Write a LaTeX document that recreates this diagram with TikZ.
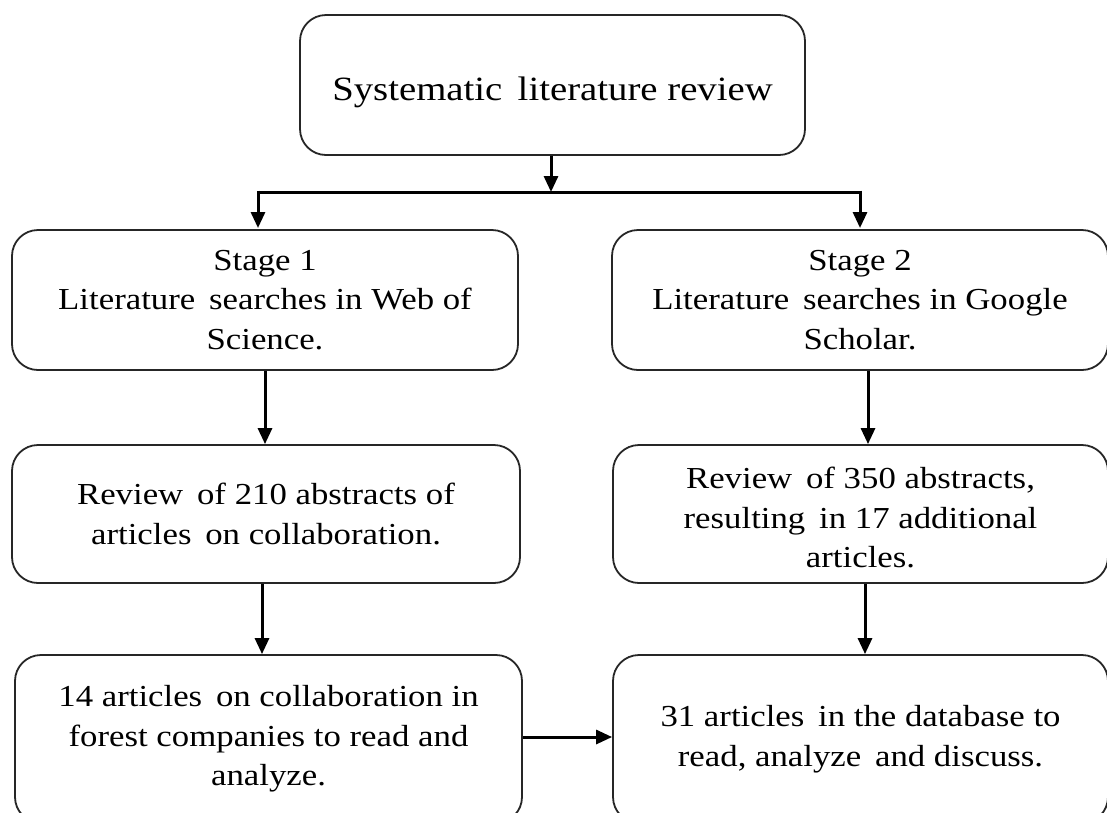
\documentclass[tikz,border=0pt]{standalone}
\usepackage{fontspec}
\setmainfont[FakeStretch=1.14]{Liberation Serif}
\usetikzlibrary{arrows.meta}
\begin{document}
\begin{tikzpicture}[x=1pt,y=-1pt,
  box/.style={draw=black!85,line width=1.8pt,rounded corners=26pt,align=center,
    inner sep=0pt,font=\fontsize{30.5}{39.5}\selectfont},
  arr/.style={line width=3pt,-{Triangle[length=16pt,width=14pt]}}]
\useasboundingbox (0,0) rectangle (1107,812);
\clip (0,0) rectangle (1107,812);
\node[box,minimum width=505pt,minimum height=140pt,font=\fontsize{34}{40}\selectfont,text height=37pt,text depth=7pt] (top) at (552.5,85) {Systematic\, literature review};
\node[box,minimum width=506pt,minimum height=140pt] (s1) at (265,300) {Stage 1\\Literature\, searches in Web of\\Science.};
\node[box,minimum width=496pt,minimum height=140pt] (s2) at (860,300) {Stage 2\\Literature\, searches in Google\\Scholar.};
\node[box,minimum width=508pt,minimum height=138pt] (l2) at (266,514) {Review\, of 210 abstracts of\\articles\, on collaboration.};
\node[box,minimum width=495pt,minimum height=138pt] (r2) at (860.5,514) {\rule{0pt}{29pt}Review\, of 350 abstracts,\\resulting\, in 17 additional\\articles.};
\node[box,minimum width=507pt,minimum height=168pt] (l3) at (268.5,739) {14 articles\, on collaboration in\\forest companies to read and\\analyze.};
\node[box,minimum width=495pt,minimum height=168pt] (r3) at (860.5,739) {31 articles\, in the database to\\read, analyze\, and discuss.};
\coordinate (j) at (551,192);
\draw[arr] (top.south -| j) -- (j);
\draw[line width=3pt] (258,192) -- (860,192);
\draw[arr] (258,190.5) -- (258,228);
\draw[arr] (860,190.5) -- (860,228);
\draw[arr] (s1.south -| 265,0) -- (l2.north -| 265,0);
\draw[arr] (s2.south -| 868,0) -- (r2.north -| 868,0);
\draw[arr] (l2.south -| 262,0) -- (l3.north -| 262,0);
\draw[arr] (r2.south -| 865,0) -- (r3.north -| 865,0);
\draw[arr] (l3.east |- 0,737) -- (r3.west |- 0,737);
\end{tikzpicture}
\end{document}
